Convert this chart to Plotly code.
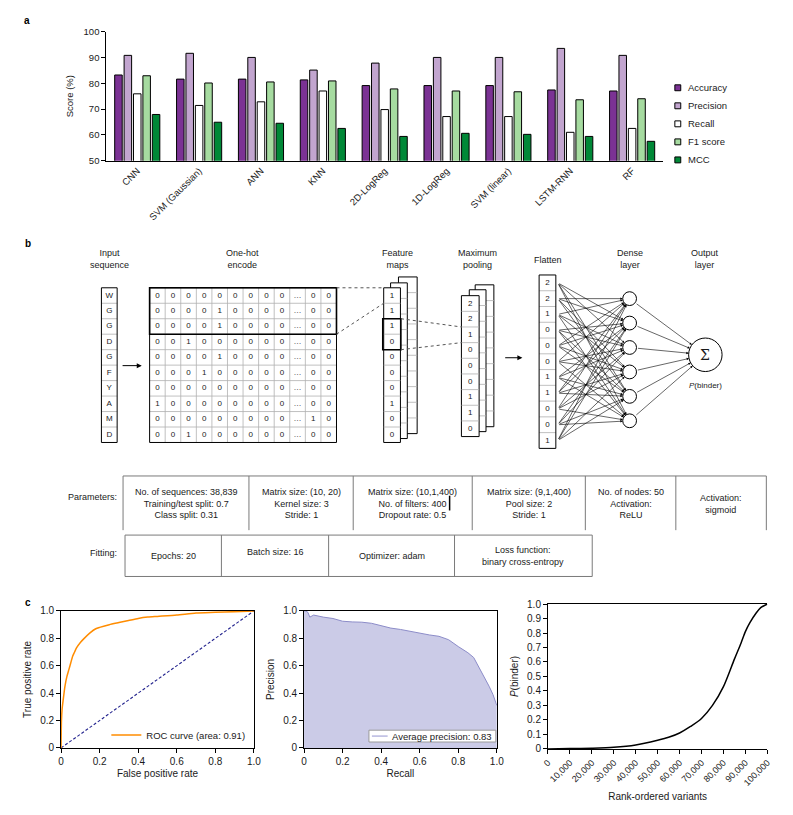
import plotly.graph_objects as go

W, H = 793, 815
FONT = "Liberation Sans, Arial, Helvetica, sans-serif"
INK = "#1a1a1a"

# ---------------- Panel a data ----------------
models = ["CNN", "SVM (Gaussian)", "ANN", "KNN", "2D-LogReg", "1D-LogReg",
          "SVM (linear)", "LSTM-RNN", "RF"]
accuracy = [83.2, 81.6, 81.6, 81.3, 79.1, 79.1, 79.1, 77.4, 77.0]
precision = [90.8, 91.6, 90.0, 85.1, 87.8, 90.0, 90.0, 93.5, 90.8]
recall = [75.9, 71.4, 72.8, 77.0, 69.8, 67.1, 67.1, 61.0, 62.5]
f1_score = [82.9, 80.1, 80.5, 80.9, 77.8, 77.0, 76.7, 73.6, 74.0]
mcc = [67.9, 64.9, 64.5, 62.5, 59.4, 60.6, 60.2, 59.4, 57.5]
metric_names = ["Accuracy", "Precision", "Recall", "F1 score", "MCC"]
score_ticks = [50, 60, 70, 80, 90, 100]

# ---------------- Panel b data ----------------
seq_letters = ["W", "G", "G", "D", "G", "F", "Y", "A", "M", "D"]
onehot = [
    ["0", "0", "0", "0", "0", "0", "0", "0", "0", "…", "0", "0"],
    ["0", "0", "0", "0", "1", "0", "0", "0", "0", "…", "0", "0"],
    ["0", "0", "0", "0", "1", "0", "0", "0", "0", "…", "0", "0"],
    ["0", "0", "1", "0", "0", "0", "0", "0", "0", "…", "0", "0"],
    ["0", "0", "0", "0", "1", "0", "0", "0", "0", "…", "0", "0"],
    ["0", "0", "0", "1", "0", "0", "0", "0", "0", "…", "0", "0"],
    ["0", "0", "0", "0", "0", "0", "0", "0", "0", "…", "0", "0"],
    ["1", "0", "0", "0", "0", "0", "0", "0", "0", "…", "0", "0"],
    ["0", "0", "0", "0", "0", "0", "0", "0", "0", "…", "1", "0"],
    ["0", "0", "1", "0", "0", "0", "0", "0", "0", "…", "0", "0"],
]
feature_map = ["1", "1", "1", "0", "0", "0", "0", "1", "0", "0"]
pooled = ["2", "2", "1", "0", "0", "0", "1", "1", "0"]
flattened = ["2", "2", "1", "0", "0", "0", "1", "1", "0", "0", "1"]
dense_nodes = 6
stage_titles = ["Input<br>sequence", "One-hot<br>encode", "Feature<br>maps",
                "Maximum<br>pooling", "Flatten", "Dense<br>layer", "Output<br>layer"]
param_cells = [
    "No. of sequences: 38,839<br>Training/test split: 0.7<br>Class split: 0.31",
    "Matrix size: (10, 20)<br>Kernel size: 3<br>Stride: 1",
    "Matrix size: (10,1,400)<br>No. of filters: 400<br>Dropout rate: 0.5",
    "Matrix size: (9,1,400)<br>Pool size: 2<br>Stride: 1",
    "No. of nodes: 50<br>Activation:<br>ReLU",
    "Activation:<br>sigmoid",
]
fit_cells = ["Epochs: 20", "Batch size: 16", "Optimizer: adam",
             "Loss function:<br>binary cross-entropy"]

# ---------------- Panel c data ----------------
roc_fpr = [0, 0.002, 0.005, 0.01, 0.02, 0.03, 0.04, 0.05, 0.06, 0.07, 0.08, 0.10, 0.12,
           0.15, 0.18, 0.20, 0.25, 0.30, 0.35, 0.40, 0.45, 0.50, 0.60, 0.70, 0.80, 0.90, 1.00]
roc_tpr = [0, 0.20, 0.28, 0.34, 0.45, 0.52, 0.57, 0.62, 0.67, 0.70, 0.73, 0.77, 0.80,
           0.84, 0.87, 0.88, 0.90, 0.915, 0.93, 0.945, 0.955, 0.96, 0.97, 0.985, 0.99, 0.995, 1.0]
chance = [0, 1]
pr_recall = [0, 0.01, 0.02, 0.03, 0.05, 0.08, 0.10, 0.15, 0.20, 0.25, 0.30, 0.35, 0.40, 0.45,
             0.50, 0.55, 0.60, 0.65, 0.70, 0.75, 0.80, 0.85, 0.88, 0.90, 0.92, 0.94, 0.96,
             0.98, 0.99, 1.0]
pr_precision = [1.0, 1.0, 0.99, 0.955, 0.97, 0.96, 0.955, 0.945, 0.925, 0.92, 0.918, 0.91,
                0.89, 0.875, 0.865, 0.85, 0.84, 0.825, 0.815, 0.79, 0.74, 0.695, 0.66, 0.61,
                0.56, 0.50, 0.45, 0.39, 0.35, 0.31]
rank = [0, 10000, 20000, 30000, 40000, 50000, 55000, 60000, 65000, 70000, 75000, 80000,
        85000, 88000, 90000, 92000, 95000, 97000, 100000]
pbinder = [0, 0.002, 0.005, 0.011, 0.027, 0.06, 0.08, 0.11, 0.155, 0.21, 0.30, 0.43,
           0.62, 0.73, 0.81, 0.87, 0.94, 0.975, 1.0]
unit_ticks = [0, 0.2, 0.4, 0.6, 0.8, 1.0]
unit_labels = ["0", "0.2", "0.4", "0.6", "0.8", "1.0"]
tenth_ticks = [i / 10 for i in range(11)]
tenth_labels = ["0"] + [f"{i/10:.1f}" for i in range(1, 11)]
rank_ticks = list(range(0, 100001, 10000))
rank_labels = ["0"] + [f"{v:,}" for v in rank_ticks[1:]]
roc_label = "ROC curve (area: 0.91)"
pr_label = "Average precision: 0.83"


def dom_x(a, b):
    return [a / W, b / W]


def dom_y(top, bottom):
    return [1 - bottom / H, 1 - top / H]


fig = go.Figure()

# ---------------- Panel a ----------------
colors = ["#7b3294", "#c2a5cf", "#ffffff", "#a6dba0", "#008837"]
for name, vals, col in zip(metric_names, [accuracy, precision, recall, f1_score, mcc], colors):
    fig.add_trace(go.Bar(x=models, y=vals, name=name, showlegend=False,
                         marker=dict(color=col, line=dict(color="black", width=1)),
                         xaxis="x", yaxis="y"))

# ---------------- Panel c ----------------
fig.add_trace(go.Scatter(x=chance, y=chance, mode="lines", showlegend=False,
                         line=dict(color="#23238e", width=1.1, dash="3px,2px"),
                         xaxis="x2", yaxis="y2"))
fig.add_trace(go.Scatter(x=roc_fpr, y=roc_tpr, mode="lines", name=roc_label,
                         line=dict(color="#ff8c00", width=1.5, shape="spline", smoothing=0.6),
                         xaxis="x2", yaxis="y2", legend="legend2"))
fig.add_trace(go.Scatter(x=pr_recall, y=pr_precision, mode="lines", fill="tozeroy",
                         fillcolor="#cbcbe7", showlegend=False,
                         line=dict(color="#8c8cc8", width=1),
                         xaxis="x3", yaxis="y3"))
fig.add_trace(go.Scatter(x=rank, y=pbinder, mode="lines", showlegend=False,
                         line=dict(color="black", width=1.5, shape="spline", smoothing=0.8),
                         xaxis="x4", yaxis="y4"))

# ---------------- Panel b (diagram in pixel space on hidden axes) ----------------
shapes = []


def line(x0, y0, x1, y1, color="black", width=1, dash=None, layer="below"):
    d = dict(type="line", x0=x0, y0=y0, x1=x1, y1=y1, xref="x5", yref="y5",
             line=dict(color=color, width=width), layer=layer)
    if dash:
        d["line"]["dash"] = dash
    shapes.append(d)


def rect(x0, y0, x1, y1, color="black", width=1, fill=None, layer="below"):
    shapes.append(dict(type="rect", x0=x0, y0=y0, x1=x1, y1=y1, xref="x5", yref="y5",
                       line=dict(color=color, width=width),
                       fillcolor=fill if fill else "rgba(0,0,0,0)", layer=layer))


def circle(cx, cy, r):
    shapes.append(dict(type="circle", x0=cx - r, y0=cy - r, x1=cx + r, y1=cy + r,
                       xref="x5", yref="y5", line=dict(color="black", width=1),
                       fillcolor="white", layer="below"))


GRID = "#b0b0b0"
tx, ty, tt = [], [], []

# input column
IX0, IX1, RY0, RY1 = 97, 113, 286, 443
nrow = len(seq_letters)
rh = (RY1 - RY0) / nrow
for i in range(1, nrow):
    line(IX0, RY0 + i * rh, IX1, RY0 + i * rh, GRID, 0.8)
rect(IX0, RY0, IX1, RY1)
for i, s in enumerate(seq_letters):
    tx.append((IX0 + IX1) / 2); ty.append(RY0 + (i + 0.5) * rh); tt.append(s)

# one-hot matrix
MX0, MX1 = 146, 336
ncol = len(onehot[0])
cw = (MX1 - MX0) / ncol
for j in range(1, ncol):
    line(MX0 + j * cw, RY0, MX0 + j * cw, RY1, GRID, 0.8)
for i in range(1, nrow):
    line(MX0, RY0 + i * rh, MX1, RY0 + i * rh, GRID, 0.8)
rect(MX0, RY0, MX1, RY1)
rect(MX0, RY0, MX1, RY0 + 3 * rh, "black", 1.6)
for i, row in enumerate(onehot):
    for j, v in enumerate(row):
        tx.append(MX0 + (j + 0.5) * cw); ty.append(RY0 + (i + 0.5) * rh); tt.append(v)

# feature maps (stacked)
for (x0, y0, x1, y1) in [(399, 275, 418, 434), (391, 281, 408, 439)]:
    rect(x0, y0, x1, y1, fill="white")
    for i in range(1, nrow):
        line(x0, y0 + i * (y1 - y0) / nrow, x1, y0 + i * (y1 - y0) / nrow, GRID, 0.8)
FX0, FX1 = 384, 401
rect(FX0, RY0, FX1, RY1, fill="white")
for i in range(1, nrow):
    line(FX0, RY0 + i * rh, FX1, RY0 + i * rh, GRID, 0.8)
for i, v in enumerate(feature_map):
    tx.append((FX0 + FX1) / 2); ty.append(RY0 + (i + 0.5) * rh); tt.append(v)
rect(383, RY0 + 2 * rh, 401.5, RY0 + 4 * rh, "black", 1.5)
line(MX1, RY0, FX0, RY0, "#555", 1, "dot")
line(MX1, RY0 + 3 * rh, FX0, RY0 + rh, "#555", 1, "dot")

# max pooling (stacked)
PY0, PY1 = 294, 437
npool = len(pooled)
ph = (PY1 - PY0) / npool
for (x0, y0, x1, y1) in [(477, 283, 496, 427), (471, 288, 488, 432)]:
    rect(x0, y0, x1, y1, fill="white")
    for i in range(1, npool):
        line(x0, y0 + i * (y1 - y0) / npool, x1, y0 + i * (y1 - y0) / npool, GRID, 0.8)
PX0, PX1 = 463, 481
rect(PX0, PY0, PX1, PY1, fill="white")
for i in range(1, npool):
    line(PX0, PY0 + i * ph, PX1, PY0 + i * ph, GRID, 0.8)
for i, v in enumerate(pooled):
    tx.append((PX0 + PX1) / 2); ty.append(PY0 + (i + 0.5) * ph); tt.append(v)
line(401.5, RY0 + 2 * rh, PX0, PY0 + 2 * ph, "#555", 1, "dot")
line(401.5, RY0 + 4 * rh, PX0, PY0 + 3 * ph, "#555", 1, "dot")

# flatten
LX0, LX1, LY0, LY1 = 542, 559, 273, 449
nflat = len(flattened)
fh = (LY1 - LY0) / nflat
for i in range(1, nflat):
    line(LX0, LY0 + i * fh, LX1, LY0 + i * fh, GRID, 0.8)
rect(LX0, LY0, LX1, LY1)
for i, v in enumerate(flattened):
    tx.append((LX0 + LX1) / 2); ty.append(LY0 + (i + 0.5) * fh); tt.append(v)

# dense + output
DX, DR = 634, 7
dense_y = [297 + k * 24.8 for k in range(dense_nodes)]
for yy in dense_y:
    circle(DX, yy, DR)
OX, OY, OR = 711, 354, 17
circle(OX, OY, OR)

annotations = []


def arrow(x0, y0, x1, y1, w=0.7, size=0.9):
    annotations.append(dict(x=x1, y=y1, ax=x0, ay=y0, xref="x5", yref="y5",
                            axref="x5", ayref="y5", text="", showarrow=True,
                            arrowhead=2, arrowsize=size, arrowwidth=w,
                            arrowcolor="black", standoff=0))


arrow(117, 365, 138, 365, 1, 1)
arrow(506, 357, 525, 357, 1, 1)
for i in range(nflat):
    sy = LY0 + (i + 0.5) * fh
    for j in range(dense_nodes):
        if (i + j) % 3 == 0:
            continue
        cy = dense_y[j]
        dx, dy = DX - (LX1 + 2), cy - sy
        d = (dx * dx + dy * dy) ** 0.5
        arrow(LX1 + 2, sy, DX - DR * dx / d, cy - DR * dy / d, 0.6, 0.8)
for cy in dense_y:
    dx, dy = OX - DX, OY - cy
    d = (dx * dx + dy * dy) ** 0.5
    arrow(DX + DR * dx / d, cy + DR * dy / d, OX - OR * dx / d, OY - OR * dy / d, 0.6, 0.8)

fig.add_trace(go.Scatter(x=tx, y=ty, text=tt, mode="text", showlegend=False,
                         textfont=dict(size=8, color=INK, family=FONT), cliponaxis=False,
                         hoverinfo="skip", xaxis="x5", yaxis="y5"))

title_pos = [(105, 257), (240, 257), (398, 257), (479, 257), (551, 258), (634, 257), (711, 257)]
for t, (x, y) in zip(stage_titles, title_pos):
    annotations.append(dict(x=x, y=y, xref="x5", yref="y5", text=t, showarrow=False,
                            font=dict(size=9, color=INK)))
annotations.append(dict(x=OX, y=OY, xref="x5", yref="y5", text="Σ", showarrow=False,
                        font=dict(size=14, color=INK, family="DejaVu Serif")))
annotations.append(dict(x=OX, y=385, xref="x5", yref="y5", text="<i>P</i>(binder)",
                        showarrow=False, font=dict(size=8, color=INK)))

# parameter table
TGRAY = "#7a7a7a"
col_x = [119, 247, 353, 474, 589, 681, 773]
line(119, 477, 773, 477, TGRAY, 1)
for x in col_x:
    line(x, 477, x, 532, TGRAY, 1)
for k, t in enumerate(param_cells):
    annotations.append(dict(x=(col_x[k] + col_x[k + 1]) / 2, y=505, xref="x5", yref="y5",
                            text=t, showarrow=False, font=dict(size=9, color=INK)))
line(451, 497, 451, 512, "black", 1.5)
annotations.append(dict(x=115, y=498, xref="x5", yref="y5", text="Parameters:",
                        xanchor="right", showarrow=False, font=dict(size=9, color=INK)))
fit_x = [121, 219, 328, 456, 596]
rect(121, 537, 596, 579, TGRAY, 1)
for x in fit_x[1:-1]:
    line(x, 537, x, 579, TGRAY, 1)
fit_y = [558, 554, 558, 558]
for k, t in enumerate(fit_cells):
    annotations.append(dict(x=(fit_x[k] + fit_x[k + 1]) / 2, y=fit_y[k], xref="x5", yref="y5",
                            text=t, showarrow=False, font=dict(size=9, color=INK)))
annotations.append(dict(x=115, y=555, xref="x5", yref="y5", text="Fitting:",
                        xanchor="right", showarrow=False, font=dict(size=9, color=INK)))

# panel letters
for letter, (x, y) in zip(["a", "b", "c"], [(21, 15), (22, 241), (22, 605)]):
    annotations.append(dict(x=x, y=y, xref="x5", yref="y5", text=f"<b>{letter}</b>",
                            showarrow=False, font=dict(size=10, color="black")))

# ---- key for panel a (drawn beside the bars) ----
for k, (name, col) in enumerate(zip(metric_names, colors)):
    cy = 83 + k * 18.3
    rect(680, cy - 3, 686, cy + 3, "black", 1, fill=col)
    annotations.append(dict(x=691, y=cy, xref="x5", yref="y5", text=name, xanchor="left",
                            showarrow=False, font=dict(size=9.5, color=INK)))

# ---- key for precision-recall panel ----
rect(369, 735, 498, 747, "#9a9a9a", 1, fill="white", layer="above")
line(372, 741, 388, 741, "#b8b8e0", 1.5, layer="above")
annotations.append(dict(x=390, y=741, xref="x5", yref="y5", text=pr_label, xanchor="left",
                        showarrow=False, font=dict(size=9.5, color=INK)))

# ---------------- Layout ----------------
axis_common = dict(showline=True, linecolor="black", linewidth=1, showgrid=False,
                   zeroline=False, ticks="outside", ticklen=4, tickcolor="black",
                   tickfont=dict(size=10, color=INK), title_font=dict(size=10, color=INK))

fig.update_layout(
    width=W, height=H, margin=dict(l=0, r=0, t=0, b=0),
    paper_bgcolor="white", plot_bgcolor="rgba(0,0,0,0)",
    font=dict(family=FONT, color=INK),
    barmode="group", bargap=0.24, bargroupgap=0.2,
    shapes=shapes, annotations=annotations,
    xaxis=dict(domain=dom_x(102, 668), anchor="y", showline=True, linecolor="black",
               showgrid=False, ticks="", tickangle=-45, tickfont=dict(size=9.5, color=INK)),
    yaxis=dict(axis_common, domain=dom_y(26, 157), anchor="x", range=[50, 100],
               tickvals=score_ticks, tickfont=dict(size=9.5, color=INK),
               title=dict(text="Score (%)", standoff=8, font=dict(size=9.5))),
    xaxis2=dict(axis_common, domain=dom_x(56, 252), anchor="y2", range=[0, 1], mirror=True,
                tickvals=unit_ticks, ticktext=unit_labels,
                title=dict(text="False positive rate", standoff=4)),
    yaxis2=dict(axis_common, domain=dom_y(614, 753), anchor="x2", range=[0, 1], mirror=True,
                tickvals=unit_ticks, ticktext=unit_labels,
                title=dict(text="True positive rate", standoff=6)),
    xaxis3=dict(axis_common, domain=dom_x(303, 499), anchor="y3", range=[0, 1], mirror=True,
                tickvals=unit_ticks, ticktext=unit_labels,
                title=dict(text="Recall", standoff=4)),
    yaxis3=dict(axis_common, domain=dom_y(614, 753), anchor="x3", range=[0, 1], mirror=True,
                tickvals=unit_ticks, ticktext=unit_labels,
                title=dict(text="Precision", standoff=6)),
    xaxis4=dict(axis_common, domain=dom_x(551, 774), anchor="y4", range=[0, 100000],
                mirror=True, tickvals=rank_ticks, ticktext=rank_labels, tickangle=-45,
                tickfont=dict(size=9, color=INK),
                title=dict(text="Rank-ordered variants", standoff=6)),
    yaxis4=dict(axis_common, domain=dom_y(607, 754), anchor="x4", range=[0, 1],
                tickvals=tenth_ticks, ticktext=tenth_labels,
                title=dict(text="<i>P</i>(binder)", standoff=6)),
    xaxis5=dict(domain=[0, 1], range=[0, W], visible=False, fixedrange=True, anchor="y5"),
    yaxis5=dict(domain=[0, 1], range=[H, 0], visible=False, fixedrange=True, anchor="x5"),
    legend2=dict(x=102 / W, y=1 - 740 / H, xanchor="left", yanchor="middle",
                 font=dict(size=9.5, color=INK), bgcolor="rgba(0,0,0,0)"),
)

fig.write_html("out.html")
